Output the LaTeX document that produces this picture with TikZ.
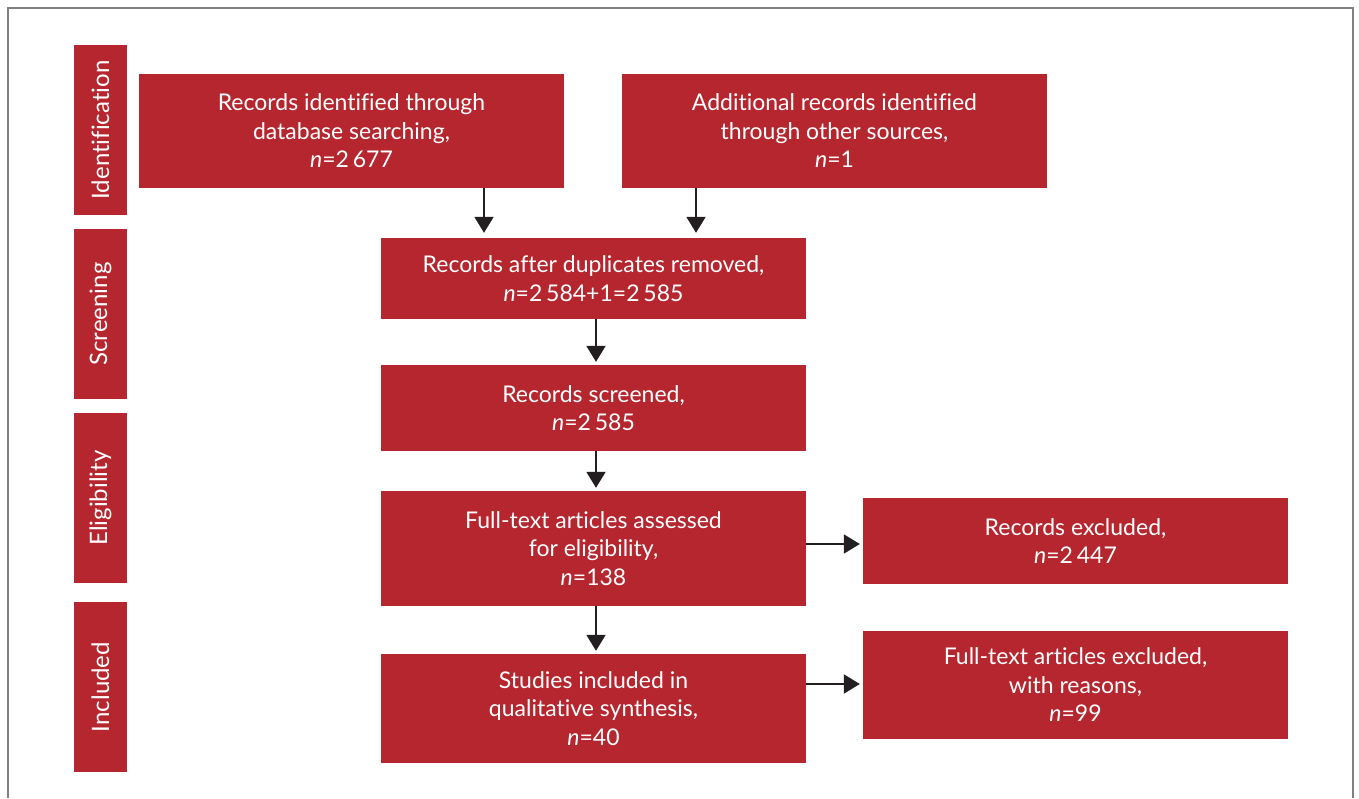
\documentclass[tikz,border=0pt]{standalone}
\usepackage{fontspec}
\setmainfont[Ligatures=NoCommon]{Lato}
\usetikzlibrary{arrows.meta}
\definecolor{boxred}{HTML}{B5262F}
\definecolor{arrowc}{HTML}{231F20}
\definecolor{framec}{HTML}{808080}
\begin{document}
\begin{tikzpicture}[x=1pt,y=-1pt,
  box/.style={fill=boxred, text=white, align=center, inner sep=0pt,
    font=\fontsize{23}{28.5}\selectfont, minimum width=425pt},
  phase/.style={fill=boxred, text=white, rotate=90, inner sep=0pt,
    minimum width=170pt, minimum height=53pt, font=\fontsize{24}{28}\selectfont},
  arr/.style={draw=arrowc, line width=2pt, -{Triangle[length=16pt,width=19pt]}}]
\useasboundingbox (0,0) rectangle (1359,798);
\draw[framec, line width=1.5pt] (8,798) -- (8,8) -- (1353,8) -- (1353,798);

% phase labels
\node[phase] (pid) at (100.5,130) {Identification};
\node[phase] (pscr) at (100.5,314) {Screening};
\node[phase] (pel) at (100.5,498) {Eligibility};
\node[phase] (pinc) at (100.5,687) {Included};

% boxes
\node[box, minimum height=114pt] (rec) at (351.5,131)
  {Records identified through\\database searching,\\\textit{n}=2\,677};
\node[box, minimum height=114pt] (add) at (834.5,131)
  {Additional records identified\\through other sources,\\\textit{n}=1};
\node[box, minimum height=81pt] (dup) at (593.5,278.5)
  {Records after duplicates removed,\\\textit{n}=2\,584+1=2\,585};
\node[box, minimum height=86pt] (scr) at (593.5,408)
  {Records screened,\\\textit{n}=2\,585};
\node[box, minimum height=115pt] (ft) at (593.5,548.5)
  {Full-text articles assessed\\for eligibility,\\\textit{n}=138};
\node[box, minimum height=109pt] (stud) at (593.5,708.5)
  {Studies included in\\qualitative synthesis,\\\textit{n}=40};
\node[box, minimum height=86pt] (rexc) at (1075.5,541)
  {Records excluded,\\\textit{n}=2\,447};
\node[box, minimum height=108pt] (ftexc) at (1075.5,685)
  {Full-text articles excluded,\\with reasons,\\\textit{n}=99};

% connectors
\coordinate (c1) at (484,0);
\coordinate (c2) at (696,0);
\coordinate (c3) at (596,0);
\coordinate (r1) at (0,544);
\coordinate (r2) at (0,684);
\draw[arr, shorten >=5pt] (c1 |- rec.south) -- (c1 |- dup.north);
\draw[arr, shorten >=5pt] (c2 |- add.south) -- (c2 |- dup.north);
\draw[arr, shorten >=3pt] (c3 |- dup.south) -- (c3 |- scr.north);
\draw[arr, shorten >=3pt] (c3 |- scr.south) -- (c3 |- ft.north);
\draw[arr, shorten >=3pt] (c3 |- ft.south) -- (c3 |- stud.north);
\draw[arr, shorten >=3pt] (r1 -| ft.east) -- (r1 -| rexc.west);
\draw[arr, shorten >=3pt] (r2 -| stud.east) -- (r2 -| ftexc.west);
\end{tikzpicture}
\end{document}
